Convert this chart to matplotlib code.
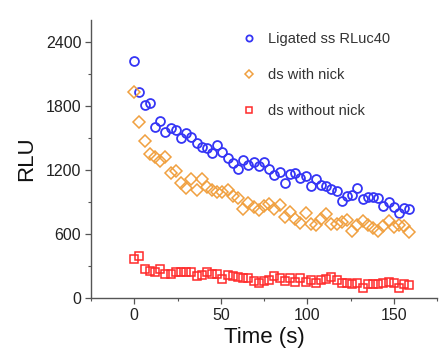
import matplotlib
matplotlib.use("Agg")
import matplotlib.pyplot as plt
from matplotlib.ticker import MultipleLocator

plt.rcParams['font.family'] = ['Liberation Sans', 'DejaVu Sans']

time_s = [0, 3, 6, 9, 12, 15, 18, 21, 24, 27, 30, 33, 36, 39, 42, 45, 48, 51,
          54, 57, 60, 63, 66, 69, 72, 75, 78, 81, 84, 87, 90, 93, 96, 99, 102, 105,
          108, 111, 114, 117, 120, 123, 126, 129, 132, 135, 138, 141, 144, 147, 150,
          153, 156, 159]

ligated_ss = [2225, 1934, 1809, 1825, 1603, 1662, 1559, 1590, 1575, 1497, 1550, 1512,
              1450, 1419, 1403, 1356, 1430, 1372, 1309, 1262, 1206, 1294, 1247, 1278,
              1237, 1278, 1210, 1153, 1184, 1078, 1162, 1169, 1127, 1140, 1050, 1114,
              1059, 1050, 1019, 1006, 912, 956, 966, 1028, 925, 950, 944, 934, 862,
              903, 850, 800, 841, 836]

ds_with_nick = [1934, 1653, 1470, 1350, 1319, 1285, 1322, 1175, 1190, 1081, 1032, 1112,
                1012, 1117, 1037, 1009, 997, 997, 1012, 956, 934, 831, 894, 856, 828,
                859, 881, 831, 872, 756, 809, 737, 706, 794, 690, 685, 737, 790, 692,
                694, 711, 731, 630, 680, 725, 684, 656, 630, 675, 720, 668, 685, 676, 617]

ds_without_nick = [366, 391, 275, 255, 240, 270, 224, 224, 247, 241, 241, 241, 209, 216,
                   247, 222, 222, 180, 214, 209, 200, 184, 191, 156, 141, 162, 169, 207,
                   189, 160, 184, 148, 184, 153, 169, 144, 169, 175, 200, 169, 144, 144,
                   131, 144, 91, 128, 131, 131, 144, 153, 144, 91, 128, 122]

labels = ["Ligated ss RLuc40", "ds with nick", "ds without nick"]

fig = plt.figure(figsize=(4.44, 3.60), dpi=100)
ax = fig.add_axes([91/444, 1-298/360, (437-91)/444, (298-20)/360])

ax.plot(time_s, ligated_ss, linestyle='none', marker='o', ms=6.4, mfc='none',
        mec='#3535f5', mew=1.3, label=labels[0])
ax.plot(time_s, ds_with_nick, linestyle='none', marker='D', ms=5.8, mfc='none',
        mec='#f0a040', mew=1.1, label=labels[1])
ax.plot(time_s, ds_without_nick, linestyle='none', marker='s', ms=5.6, mfc='none',
        mec='#ff2a2a', mew=1.1, label=labels[2])

ax.set_xlim(-25, 175)
ax.set_ylim(0, 2606)
ax.xaxis.set_major_locator(MultipleLocator(50))
ax.xaxis.set_minor_locator(MultipleLocator(25))
ax.yaxis.set_major_locator(MultipleLocator(600))
ax.yaxis.set_minor_locator(MultipleLocator(300))

for s in ['top', 'right']:
    ax.spines[s].set_visible(False)
for s in ['left', 'bottom']:
    ax.spines[s].set_color('#555555')
    ax.spines[s].set_linewidth(1.0)

ax.tick_params(which='major', direction='out', length=4, width=0.9, color='#555555',
               labelsize=11.5, labelcolor='#222222', pad=3)
ax.tick_params(which='minor', direction='out', length=2.5, width=0.8, color='#555555')

ax.set_xlabel("Time (s)", fontsize=16, color='#111111', labelpad=3)
ax.set_ylabel("RLU", fontsize=16, color='#111111', labelpad=6)

leg = ax.legend(loc='upper left', bbox_to_anchor=(242/444, 1-32.5/360),
                bbox_transform=fig.transFigure, frameon=False, fontsize=10.5,
                handlelength=1.0, handletextpad=0.8, labelspacing=1.49,
                borderpad=0, borderaxespad=0, markerscale=0.7)
for t in leg.get_texts():
    t.set_color('#333333')

fig.savefig("out.png", dpi=100)
